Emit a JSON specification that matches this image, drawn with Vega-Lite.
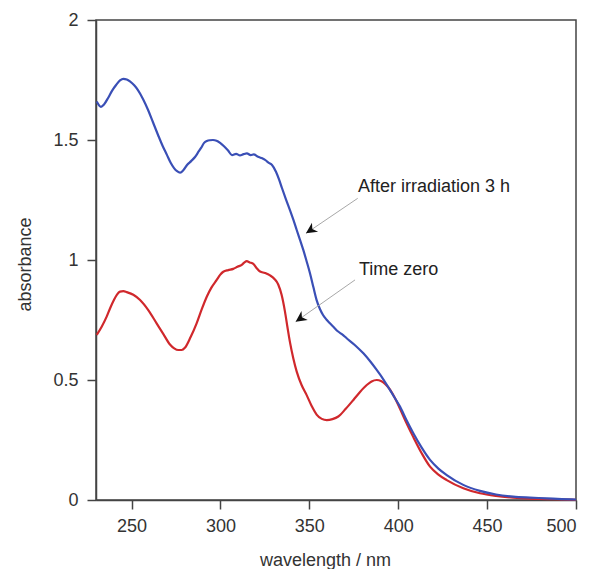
{
  "$schema": "https://vega.github.io/schema/vega-lite/v6.json",
  "width": 480,
  "height": 480,
  "autosize": "none",
  "padding": {"left": 96, "top": 20, "right": 18, "bottom": 69},
  "background": "white",
  "config": {
    "view": {"stroke": "#444", "strokeWidth": 1.5},
    "axis": {
      "grid": false,
      "labelFont": "Liberation Sans",
      "labelFontSize": 18,
      "labelColor": "#333",
      "titleFont": "Liberation Sans",
      "titleFontSize": 18,
      "titleFontWeight": "normal",
      "titleColor": "#333",
      "domainColor": "#444",
      "domainWidth": 1.5,
      "tickColor": "#444",
      "tickWidth": 1.5,
      "tickSize": 9
    },
    "text": {"font": "Liberation Sans"}
  },
  "datasets": {
    "blue": [
      {"wavelength": 230.4, "absorbance": 1.660},
      {"wavelength": 232.8, "absorbance": 1.638},
      {"wavelength": 234.5, "absorbance": 1.648},
      {"wavelength": 236.8, "absorbance": 1.675},
      {"wavelength": 239.0, "absorbance": 1.705},
      {"wavelength": 241.3, "absorbance": 1.729},
      {"wavelength": 243.5, "absorbance": 1.748},
      {"wavelength": 245.4, "absorbance": 1.755},
      {"wavelength": 247.3, "absorbance": 1.752},
      {"wavelength": 249.1, "absorbance": 1.744},
      {"wavelength": 251.5, "absorbance": 1.728},
      {"wavelength": 253.6, "absorbance": 1.708},
      {"wavelength": 256.5, "absorbance": 1.670},
      {"wavelength": 259.3, "absorbance": 1.625},
      {"wavelength": 262.0, "absorbance": 1.575},
      {"wavelength": 264.9, "absorbance": 1.521},
      {"wavelength": 267.5, "absorbance": 1.475},
      {"wavelength": 269.9, "absorbance": 1.438},
      {"wavelength": 272.0, "absorbance": 1.405},
      {"wavelength": 273.9, "absorbance": 1.383},
      {"wavelength": 275.6, "absorbance": 1.370},
      {"wavelength": 277.3, "absorbance": 1.364},
      {"wavelength": 279.2, "absorbance": 1.375},
      {"wavelength": 281.2, "absorbance": 1.396},
      {"wavelength": 283.5, "absorbance": 1.412},
      {"wavelength": 285.7, "absorbance": 1.429},
      {"wavelength": 287.4, "absorbance": 1.448},
      {"wavelength": 289.1, "absorbance": 1.467},
      {"wavelength": 290.8, "absorbance": 1.488},
      {"wavelength": 292.4, "absorbance": 1.496},
      {"wavelength": 294.0, "absorbance": 1.499},
      {"wavelength": 295.8, "absorbance": 1.500},
      {"wavelength": 297.8, "absorbance": 1.497},
      {"wavelength": 299.8, "absorbance": 1.488},
      {"wavelength": 302.0, "absorbance": 1.474},
      {"wavelength": 304.3, "absorbance": 1.456},
      {"wavelength": 306.5, "absorbance": 1.437},
      {"wavelength": 308.8, "absorbance": 1.442},
      {"wavelength": 311.0, "absorbance": 1.436},
      {"wavelength": 313.0, "absorbance": 1.441},
      {"wavelength": 314.9, "absorbance": 1.444},
      {"wavelength": 317.0, "absorbance": 1.437},
      {"wavelength": 318.8, "absorbance": 1.440},
      {"wavelength": 320.6, "absorbance": 1.432},
      {"wavelength": 323.0, "absorbance": 1.425},
      {"wavelength": 325.1, "absorbance": 1.417},
      {"wavelength": 327.2, "absorbance": 1.405},
      {"wavelength": 329.0, "absorbance": 1.396},
      {"wavelength": 331.3, "absorbance": 1.367},
      {"wavelength": 333.0, "absorbance": 1.335},
      {"wavelength": 334.6, "absorbance": 1.300},
      {"wavelength": 336.9, "absorbance": 1.252},
      {"wavelength": 339.1, "absorbance": 1.208},
      {"wavelength": 341.0, "absorbance": 1.168},
      {"wavelength": 342.9, "absorbance": 1.125},
      {"wavelength": 344.8, "absorbance": 1.083},
      {"wavelength": 346.6, "absorbance": 1.042},
      {"wavelength": 348.5, "absorbance": 0.994},
      {"wavelength": 350.4, "absorbance": 0.944},
      {"wavelength": 352.3, "absorbance": 0.886},
      {"wavelength": 354.1, "absorbance": 0.833},
      {"wavelength": 355.9, "absorbance": 0.797},
      {"wavelength": 357.7, "absorbance": 0.771},
      {"wavelength": 359.6, "absorbance": 0.752},
      {"wavelength": 361.6, "absorbance": 0.736},
      {"wavelength": 364.0, "absorbance": 0.718},
      {"wavelength": 366.0, "absorbance": 0.703},
      {"wavelength": 368.5, "absorbance": 0.690},
      {"wavelength": 371.0, "absorbance": 0.674},
      {"wavelength": 375.7, "absorbance": 0.645},
      {"wavelength": 380.4, "absorbance": 0.611},
      {"wavelength": 384.2, "absorbance": 0.578},
      {"wavelength": 387.9, "absorbance": 0.542},
      {"wavelength": 391.7, "absorbance": 0.502},
      {"wavelength": 395.4, "absorbance": 0.458},
      {"wavelength": 398.2, "absorbance": 0.424},
      {"wavelength": 401.0, "absorbance": 0.389},
      {"wavelength": 404.7, "absorbance": 0.332},
      {"wavelength": 408.5, "absorbance": 0.278},
      {"wavelength": 413.2, "absorbance": 0.218},
      {"wavelength": 417.9, "absorbance": 0.167},
      {"wavelength": 422.6, "absorbance": 0.131},
      {"wavelength": 427.3, "absorbance": 0.104},
      {"wavelength": 436.6, "absorbance": 0.063},
      {"wavelength": 446.0, "absorbance": 0.038},
      {"wavelength": 455.0, "absorbance": 0.023},
      {"wavelength": 464.7, "absorbance": 0.014},
      {"wavelength": 474.0, "absorbance": 0.010},
      {"wavelength": 483.5, "absorbance": 0.007},
      {"wavelength": 492.0, "absorbance": 0.004},
      {"wavelength": 500.0, "absorbance": 0.002}
    ],
    "red": [
      {"wavelength": 230.4, "absorbance": 0.688},
      {"wavelength": 233.2, "absorbance": 0.722},
      {"wavelength": 236.0, "absorbance": 0.764},
      {"wavelength": 238.0, "absorbance": 0.800},
      {"wavelength": 240.0, "absorbance": 0.832},
      {"wavelength": 241.8, "absorbance": 0.856},
      {"wavelength": 243.5, "absorbance": 0.868},
      {"wavelength": 245.4, "absorbance": 0.870},
      {"wavelength": 247.3, "absorbance": 0.866},
      {"wavelength": 251.0, "absorbance": 0.855},
      {"wavelength": 254.8, "absorbance": 0.833},
      {"wavelength": 259.5, "absorbance": 0.790},
      {"wavelength": 264.1, "absorbance": 0.736},
      {"wavelength": 268.0, "absorbance": 0.690},
      {"wavelength": 271.6, "absorbance": 0.648},
      {"wavelength": 274.0, "absorbance": 0.632},
      {"wavelength": 276.3, "absorbance": 0.625},
      {"wavelength": 278.2, "absorbance": 0.625},
      {"wavelength": 280.0, "absorbance": 0.634},
      {"wavelength": 283.3, "absorbance": 0.680},
      {"wavelength": 286.6, "absorbance": 0.736},
      {"wavelength": 289.5, "absorbance": 0.795},
      {"wavelength": 292.3, "absorbance": 0.847},
      {"wavelength": 295.0, "absorbance": 0.886},
      {"wavelength": 297.9, "absorbance": 0.917},
      {"wavelength": 299.8, "absorbance": 0.938},
      {"wavelength": 301.6, "absorbance": 0.951},
      {"wavelength": 304.4, "absorbance": 0.958},
      {"wavelength": 307.2, "absorbance": 0.963},
      {"wavelength": 309.6, "absorbance": 0.972},
      {"wavelength": 312.0, "absorbance": 0.980},
      {"wavelength": 313.5, "absorbance": 0.990},
      {"wavelength": 314.8, "absorbance": 0.995},
      {"wavelength": 316.5, "absorbance": 0.990},
      {"wavelength": 318.5, "absorbance": 0.984},
      {"wavelength": 320.4, "absorbance": 0.966},
      {"wavelength": 322.3, "absorbance": 0.952},
      {"wavelength": 325.0, "absorbance": 0.946},
      {"wavelength": 327.9, "absorbance": 0.936},
      {"wavelength": 330.5, "absorbance": 0.920},
      {"wavelength": 332.5, "absorbance": 0.898},
      {"wavelength": 334.4, "absorbance": 0.855},
      {"wavelength": 336.3, "absorbance": 0.785},
      {"wavelength": 337.7, "absorbance": 0.720},
      {"wavelength": 339.1, "absorbance": 0.658},
      {"wavelength": 341.0, "absorbance": 0.590},
      {"wavelength": 342.9, "absorbance": 0.535},
      {"wavelength": 345.7, "absorbance": 0.478},
      {"wavelength": 348.5, "absorbance": 0.437},
      {"wavelength": 351.3, "absorbance": 0.392},
      {"wavelength": 354.1, "absorbance": 0.356},
      {"wavelength": 357.0, "absorbance": 0.338},
      {"wavelength": 359.8, "absorbance": 0.333},
      {"wavelength": 363.0, "absorbance": 0.337},
      {"wavelength": 366.3, "absorbance": 0.348},
      {"wavelength": 370.5, "absorbance": 0.380},
      {"wavelength": 374.8, "absorbance": 0.417},
      {"wavelength": 378.5, "absorbance": 0.450},
      {"wavelength": 382.3, "absorbance": 0.479},
      {"wavelength": 385.0, "absorbance": 0.494},
      {"wavelength": 387.9, "absorbance": 0.500},
      {"wavelength": 390.3, "absorbance": 0.496},
      {"wavelength": 392.6, "absorbance": 0.484},
      {"wavelength": 395.4, "absorbance": 0.460},
      {"wavelength": 398.2, "absorbance": 0.424},
      {"wavelength": 401.0, "absorbance": 0.380},
      {"wavelength": 404.7, "absorbance": 0.320},
      {"wavelength": 408.5, "absorbance": 0.262},
      {"wavelength": 413.2, "absorbance": 0.195},
      {"wavelength": 417.9, "absorbance": 0.139},
      {"wavelength": 422.6, "absorbance": 0.106},
      {"wavelength": 427.3, "absorbance": 0.083},
      {"wavelength": 436.6, "absorbance": 0.049},
      {"wavelength": 446.0, "absorbance": 0.028},
      {"wavelength": 455.0, "absorbance": 0.017},
      {"wavelength": 464.7, "absorbance": 0.010},
      {"wavelength": 474.0, "absorbance": 0.006},
      {"wavelength": 483.5, "absorbance": 0.004},
      {"wavelength": 492.0, "absorbance": 0.002},
      {"wavelength": 500.0, "absorbance": 0.001}
    ],
    "arrows": [
      {"x": 377.2, "y": 1.257, "x2": 348.1, "y2": 1.111, "angle": 236},
      {"x": 375.7, "y": 0.917, "x2": 342.3, "y2": 0.743, "angle": 235}
    ],
    "labels": [
      {"x": 377.4, "y": 1.285, "text": "After irradiation 3 h"},
      {"x": 377.9, "y": 0.9375, "text": "Time zero"}
    ]
  },
  "layer": [
    {
      "data": {"name": "red"},
      "mark": {"type": "line", "color": "#d0282c", "strokeWidth": 2.2, "interpolate": "monotone"},
      "encoding": {
        "x": {
          "field": "wavelength", "type": "quantitative",
          "scale": {"domain": [230, 500], "nice": false, "zero": false},
          "axis": {"values": [250, 300, 350, 400, 450, 500], "labelPadding": 8, "title": "wavelength / nm", "titleX": 229, "titleY": 65, "titleBaseline": "alphabetic"}
        },
        "y": {
          "field": "absorbance", "type": "quantitative",
          "scale": {"domain": [0, 2], "nice": false},
          "axis": {"values": [0, 0.5, 1, 1.5, 2], "format": "~g", "labelPadding": 9, "title": "absorbance", "titleX": -66, "titleY": 244, "titleBaseline": "alphabetic", "titleAngle": -90, "titleAlign": "center"}
        }
      }
    },
    {
      "data": {"name": "blue"},
      "mark": {"type": "line", "color": "#3a4fb6", "strokeWidth": 2.2, "interpolate": "monotone"},
      "encoding": {
        "x": {"field": "wavelength", "type": "quantitative"},
        "y": {"field": "absorbance", "type": "quantitative"}
      }
    },
    {
      "data": {"name": "arrows"},
      "mark": {"type": "rule", "color": "#a8a8a8", "strokeWidth": 1},
      "encoding": {
        "x": {"field": "x", "type": "quantitative"},
        "y": {"field": "y", "type": "quantitative"},
        "x2": {"field": "x2"},
        "y2": {"field": "y2"}
      }
    },
    {
      "data": {"name": "arrows"},
      "mark": {"type": "point", "shape": "M0,0 L-0.5,1 L0,0.7 L0.5,1 Z", "filled": true, "color": "#111", "size": 480, "opacity": 1},
      "encoding": {
        "x": {"field": "x2", "type": "quantitative"},
        "y": {"field": "y2", "type": "quantitative"},
        "angle": {"field": "angle", "type": "quantitative", "scale": null}
      }
    },
    {
      "data": {"name": "labels"},
      "mark": {"type": "text", "align": "left", "baseline": "alphabetic", "fontSize": 18, "color": "#222", "font": "Liberation Sans"},
      "encoding": {
        "x": {"field": "x", "type": "quantitative"},
        "y": {"field": "y", "type": "quantitative"},
        "text": {"field": "text"}
      }
    }
  ]
}
